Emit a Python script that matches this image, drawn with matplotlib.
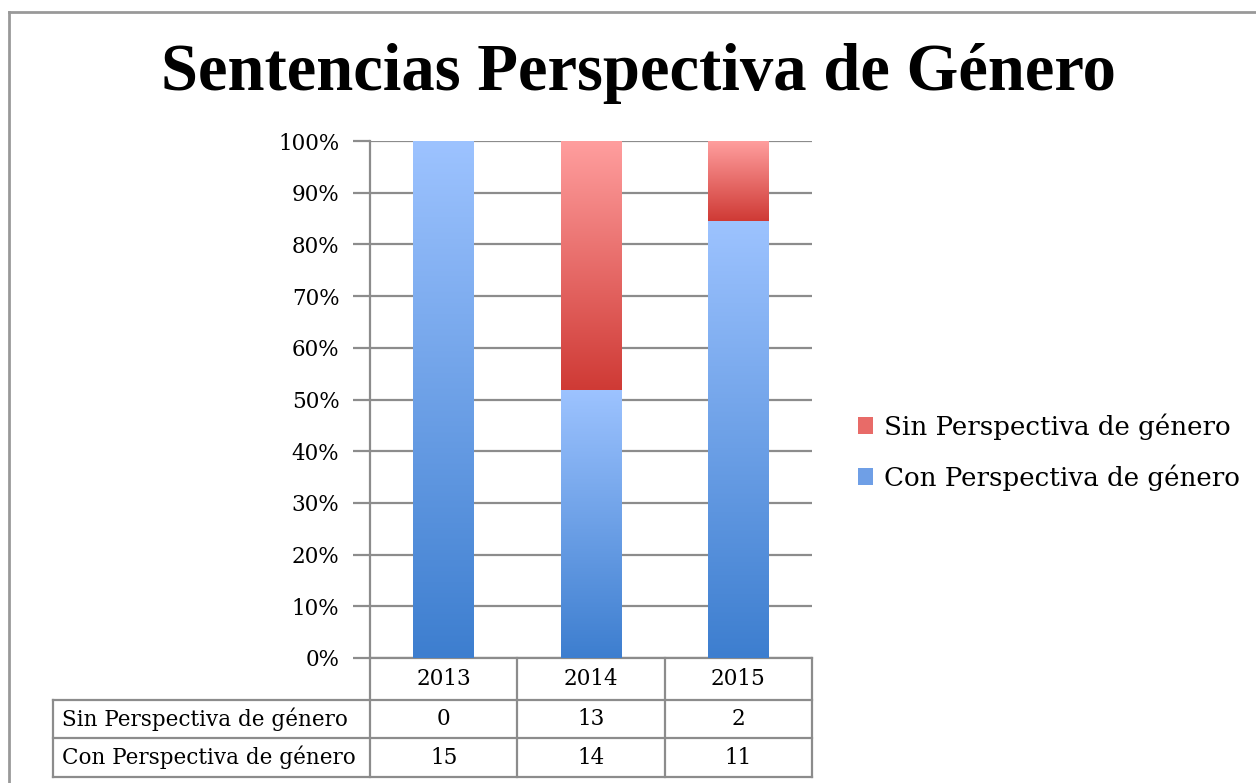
import numpy as np
import matplotlib
matplotlib.use("Agg")
import matplotlib.pyplot as plt
from matplotlib.lines import Line2D
from matplotlib.patches import Patch

plt.rcParams['font.family'] = ['DejaVu Serif']

# data
years = ["2013", "2014", "2015"]
series_names = ["Sin Perspectiva de género", "Con Perspectiva de género"]
sin_vals = [0, 13, 2]
con_vals = [15, 14, 11]

sin_arr = np.array(sin_vals, dtype=float)
con_arr = np.array(con_vals, dtype=float)
tot = sin_arr + con_arr
con_pct = con_arr / tot
sin_pct = sin_arr / tot

# gradient colours (bottom -> top)
blue_bot, blue_top = "#3d7ecf", "#9dc3ff"
red_bot, red_top = "#cf3a35", "#ff9e9e"

fig = plt.figure(figsize=(12.56, 7.83), dpi=100)
ax = fig.add_axes([370/1256, 1 - 658/783, 442/1256, 517/783])

x = np.arange(len(years))
w = 0.41
b_con = ax.bar(x, con_pct, w, color="#6f9fe6", zorder=2)
b_sin = ax.bar(x, sin_pct, w, bottom=con_pct, color="#e86b68", zorder=2)


def grad_fill(bars, c_bot, c_top):
    cb = np.array(matplotlib.colors.to_rgb(c_bot))
    ct = np.array(matplotlib.colors.to_rgb(c_top))
    t = np.linspace(0, 1, 256)[:, None]
    img = (cb[None, :] * (1 - t) + ct[None, :] * t)[:, None, :]
    for b in bars:
        if b.get_height() <= 0:
            continue
        x0, y0 = b.get_x(), b.get_y()
        ax.imshow(img, extent=(x0, x0 + b.get_width(), y0, y0 + b.get_height()),
                  origin="lower", aspect="auto", zorder=3, interpolation="bilinear")


grad_fill(b_con, blue_bot, blue_top)
grad_fill(b_sin, red_bot, red_top)

fs = 15.5
ax.set_xlim(-0.5, len(years) - 0.5)
ax.set_ylim(0, 1)
ax.set_yticks(np.arange(0, 1.01, 0.1))
ax.set_yticklabels([f"{int(round(v*100))}%" for v in np.arange(0, 1.01, 0.1)])
ax.set_xticks([])
ax.yaxis.grid(True, color="#8c8c8c", lw=1.6, zorder=1)
ax.tick_params(axis="y", length=12, width=1.6, color="#8c8c8c", pad=10, labelsize=fs)
for s in ["top", "right", "bottom"]:
    ax.spines[s].set_visible(False)
ax.spines["left"].set_color("#8c8c8c")
ax.spines["left"].set_linewidth(1.6)

# data table below the axes
tr = ax.transAxes
lc = "#8c8c8c"
x_left = (53 - 370) / 442
col_edges = [i / len(years) for i in range(len(years) + 1)]
y_hdr = -42 / 517
y_r1 = -80 / 517
y_r2 = -119 / 517

def hline(x0, x1, y):
    ax.add_line(Line2D([x0, x1], [y, y], transform=tr, color=lc, lw=1.6, clip_on=False))

def vline(xx, y0, y1):
    ax.add_line(Line2D([xx, xx], [y0, y1], transform=tr, color=lc, lw=1.6, clip_on=False))

hline(0, 1, 0)
hline(x_left, 1, y_hdr)
hline(x_left, 1, y_r1)
hline(x_left, 1, y_r2)
for ce in col_edges:
    vline(ce, 0, y_r2)
vline(x_left, y_hdr, y_r2)

for i, yr in enumerate(years):
    cx = (i + 0.5) / len(years)
    ax.text(cx, y_hdr / 2, yr, transform=tr, ha="center", va="center", fontsize=fs)
    ax.text(cx, (y_hdr + y_r1) / 2, str(sin_vals[i]), transform=tr, ha="center", va="center", fontsize=fs)
    ax.text(cx, (y_r1 + y_r2) / 2, str(con_vals[i]), transform=tr, ha="center", va="center", fontsize=fs)
ax.text(x_left + 9 / 442, (y_hdr + y_r1) / 2, series_names[0], transform=tr, ha="left", va="center", fontsize=fs)
ax.text(x_left + 9 / 442, (y_r1 + y_r2) / 2, series_names[1], transform=tr, ha="left", va="center", fontsize=fs)

# legend
handles = [Patch(facecolor="#e86b68"), Patch(facecolor="#6f9fe6")]
fig.legend(handles, series_names, loc="center left", bbox_to_anchor=(834/1256, 1 - 452/783),
           frameon=False, fontsize=18.8, handlelength=0.6, handleheight=0.6,
           handletextpad=0.4, labelspacing=0.95)

# title
fig.text(638/1256, 1 - 74/783, "Sentencias Perspectiva de Género", ha="center", va="center",
         fontsize=48, fontweight="bold", family="Liberation Serif")

# outer frame
fig.add_artist(Line2D([9/1256, 1], [1 - 12/783, 1 - 12/783], transform=fig.transFigure, color="#999999", lw=2))
fig.add_artist(Line2D([9/1256, 9/1256], [0, 1 - 12/783], transform=fig.transFigure, color="#999999", lw=2))

fig.savefig("out.png", dpi=100)
